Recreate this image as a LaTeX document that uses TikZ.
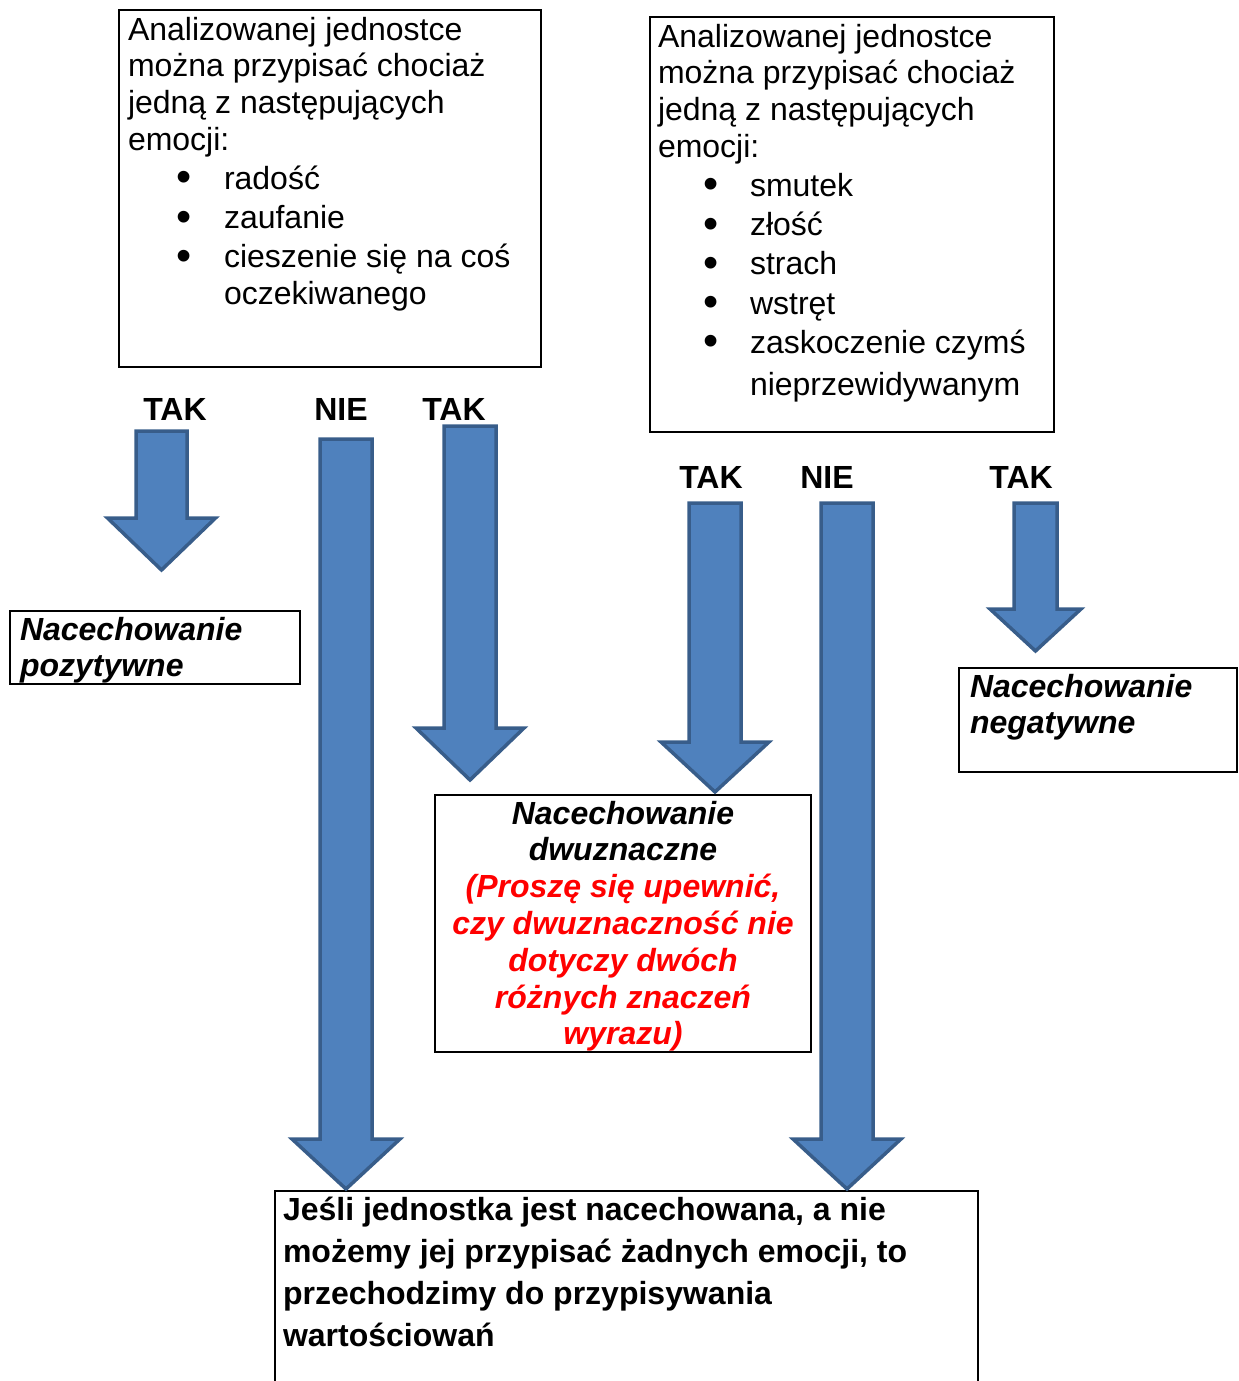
\documentclass[tikz,border=0pt]{standalone}
\usepackage{fontspec}
\setmainfont{Liberation Sans}
\usetikzlibrary{calc}
\definecolor{arrfill}{HTML}{4F81BD}
\definecolor{arrline}{HTML}{385D8A}
\definecolor{redtxt}{HTML}{FF0000}
\newcommand\bul[2]{\hspace*{#1}\makebox[#2][l]{\raisebox{-2.5pt}{\scalebox{1.35}{\textbullet}}}}
\newcommand\mystrut{\rule{0pt}{30pt}}
\newcommand\blockarrow[7]{%
  \coordinate (#1-s) at (#2,#3);
  \coordinate (#1-e) at (#2,#7);
  \filldraw[barrowstyle] ({#2-#4/2},#3) -- ({#2+#4/2},#3) -- ({#2+#4/2},#5)
    -- ({#2+#6/2},#5) -- (#1-e) -- ({#2-#6/2},#5) -- ({#2-#4/2},#5) -- cycle;
}
\tikzset{
  box/.style={draw=black, line width=2pt, inner sep=0pt, outer sep=0pt},
  txt/.style={inner sep=0pt, outer sep=0pt, anchor=north west, align=left,
    font=\fontsize{32}{36.8}\selectfont},
  lbl/.style={inner sep=0pt, outer sep=0pt, anchor=base,
    font=\fontsize{32}{36.8}\selectfont\bfseries},
  barrowstyle/.style={fill=arrfill, draw=arrline, line width=3.5pt, line join=miter},
}
\begin{document}
\begin{tikzpicture}[x=1pt,y=-1pt]
\useasboundingbox (0,0) rectangle (1239,1381);
% boxes
\node[box, minimum width=422pt, minimum height=357pt] (q1) at (330,188.5) {};
\node[box, minimum width=404pt, minimum height=415pt] (q2) at (852,224.5) {};
\node[box, minimum width=290pt, minimum height=73pt] (poz) at (155,647.5) {};
\node[box, minimum width=376pt, minimum height=257pt] (dwu) at (623,923.5) {};
\node[box, minimum width=278pt, minimum height=104pt] (neg) at (1098,720) {};
\node[box, minimum width=703pt, minimum height=228pt] (res) at (626.5,1305) {};
% texts
\node[txt] (q1t) at (128,10) {\mystrut Analizowanej jednostce\\
można przypisać chociaż\\
jedną z następujących\\
emocji:\\[2pt]
\bul{48pt}{48pt}radość\\[2.5pt]
\bul{48pt}{48pt}zaufanie\\[2.5pt]
\bul{48pt}{48pt}cieszenie się na coś\\[0pt]
\hspace*{96pt}oczekiwanego};
\node[txt] (q2t) at (658,17) {\mystrut Analizowanej jednostce\\
można przypisać chociaż\\
jedną z następujących\\
emocji:\\[2pt]
\bul{45pt}{47pt}smutek\\[2.5pt]
\bul{45pt}{47pt}złość\\[2.5pt]
\bul{45pt}{47pt}strach\\[2.5pt]
\bul{45pt}{47pt}wstręt\\[2.5pt]
\bul{45pt}{47pt}zaskoczenie czymś\\[5.5pt]
\hspace*{92pt}nieprzewidywanym};
\node[txt, font=\fontsize{32}{36.8}\selectfont\bfseries\itshape] (pozt) at (20,610) {\mystrut Nacechowanie\\pozytywne};
\node[txt, font=\fontsize{32}{36.8}\selectfont\bfseries\itshape] (negt) at (970,667) {\mystrut Nacechowanie\\negatywne};
\node[txt, anchor=north, align=center, font=\fontsize{32}{36.8}\selectfont\bfseries\itshape] (dwut) at (623,794) {\mystrut Nacechowanie\\
dwuznaczne\\
\textcolor{redtxt}{(Proszę się upewnić,}\\
\textcolor{redtxt}{czy dwuznaczność nie}\\
\textcolor{redtxt}{dotyczy dwóch}\\
\textcolor{redtxt}{różnych znaczeń}\\
\textcolor{redtxt}{wyrazu)}};
\node[txt, font=\fontsize{32}{42}\selectfont\bfseries] (rest) at (283,1190) {\mystrut Jeśli jednostka jest nacechowana, a nie\\
możemy jej przypisać żadnych emocji, to\\
przechodzimy do przypisywania\\
wartościowań};
% labels
\node[lbl] (l1) at (175,420) {TAK};
\node[lbl] (l2) at (341,420) {NIE};
\node[lbl] (l3) at (454,420) {TAK};
\node[lbl] (l4) at (711,488) {TAK};
\node[lbl] (l5) at (827,488) {NIE};
\node[lbl] (l6) at (1021,488) {TAK};
% arrows
\blockarrow{a1}{161.5}{431}{51}{518}{108}{570}
\blockarrow{a2}{346}{439}{52}{1139}{108}{1189}
\blockarrow{a3}{470}{426}{52}{728}{108}{780}
\blockarrow{a4}{715}{503}{52}{742}{108}{792}
\blockarrow{a5}{847}{503}{52}{1139}{108}{1189}
\blockarrow{a6}{1035.5}{503}{43}{609}{91}{651}
\end{tikzpicture}
\end{document}
